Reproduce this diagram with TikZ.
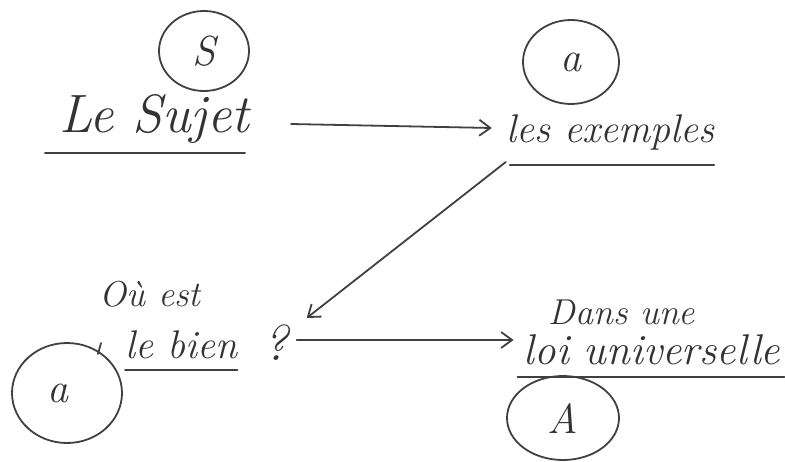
\documentclass[tikz,border=0pt]{standalone}
\usetikzlibrary{shapes.geometric,arrows.meta}
\begin{document}
\begin{tikzpicture}[x=1pt,y=-1pt,
  ink/.style={draw=black!75, line width=1.8pt, line cap=round},
  hand/.style={text=black!80, font=\fontsize{40}{44}\selectfont\itshape, inner sep=0pt, anchor=base},
  small/.style={text=black!80, font=\fontsize{36}{40}\selectfont\itshape, inner sep=0pt, anchor=base},
  ring/.style={ellipse, draw=black!75, line width=1.8pt, inner sep=0pt,
    font=\fontsize{42}{46}\selectfont\itshape, text=black!80},
  arr/.style={ink, -{Straight Barb[length=11pt,width=16pt]}}]
\useasboundingbox (0,0) rectangle (785,461);

% written labels
\node[hand, font=\fontsize{54}{58}\selectfont\itshape] (sujet) at (154,132) {Le Sujet};
\node[hand] (exemples) at (610,142) {les exemples};
\node[small] (ou) at (150,306) {Où est};
\node[hand, anchor=base west] (lebien) at (125,358) {le bien};
\node[hand, font=\fontsize{50}{54}\selectfont\itshape] (qm) at (276,360) {?};
\node[small] (dans) at (622,324) {Dans une};
\node[hand, font=\fontsize{43}{47}\selectfont\itshape] (loi) at (652,364) {loi universelle};

% circled letters
\node[ring, minimum width=90pt, minimum height=80pt] (S) at (204,51) {S};
\node[ring, minimum width=96pt, minimum height=84pt] (a) at (571,62) {a};
\node[ring, minimum width=110pt, minimum height=100pt] (ap) at (67,393)
  {\raisebox{-8pt}{a}\hspace*{18pt}};
\draw[ink] ([shift={(34,-50)}]ap.center) -- ([shift={(31,-39)}]ap.center);
\node[ring, minimum width=112pt, minimum height=84pt] (A) at (563,418) {A};

% underlines
\draw[ink] ([shift={(-14,21)}]sujet.base west) -- ([shift={(-4,21)}]sujet.base east);
\draw[ink] ([shift={(4,23)}]exemples.base west) -- ([shift={(0,23)}]exemples.base east);
\draw[ink] ([shift={(0,12)}]lebien.base west) -- ([shift={(0,12)}]lebien.base east);
\draw[ink] ([shift={(-6,13)}]loi.base west) -- ([shift={(4,13)}]loi.base east);

% arrows
\draw[arr] ([shift={(42,-8)}]sujet.base east) -- ([shift={(-14,-14)}]exemples.base west);
\draw[arr] ([shift={(0,20)}]exemples.base west) -- ([shift={(18,-42)}]qm.base east);
\draw[arr] ([shift={(8,-20)}]qm.base east) -- ([shift={(-10,-24)}]loi.base west);
\end{tikzpicture}
\end{document}
